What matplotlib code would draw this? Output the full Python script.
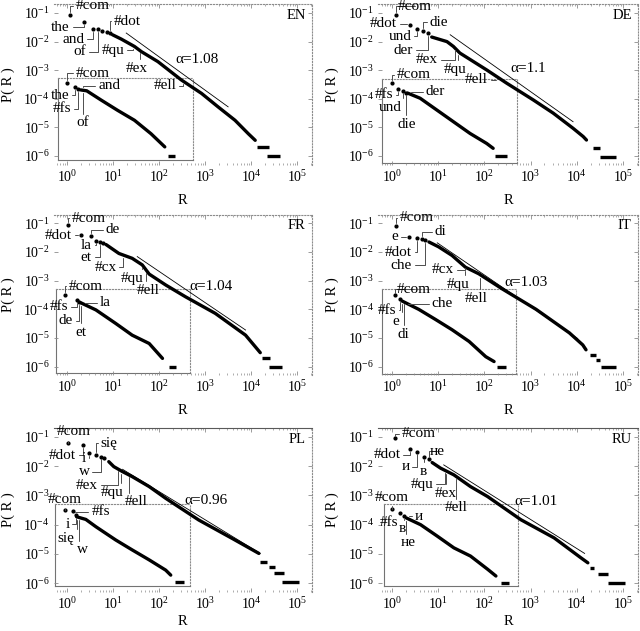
import numpy as np
import matplotlib.pyplot as plt

plt.rcParams['font.family'] = ['Liberation Serif', 'DejaVu Serif']
plt.rcParams['mathtext.fontset'] = 'stix'

# all values, stored as log10(R) and log10(P)

# ---- EN ----
en_top_r = [0.06, 0.36, 0.55, 0.66, 0.75, 0.86, 0.93]
en_top_p = [-1.06, -1.33, -1.56, -1.57, -1.62, -1.66, -1.70]
en_body_r = [0.98, 1.17, 1.46, 1.61, 1.97, 2.48, 2.92, 3.28, 3.65, 3.94, 4.09]
en_body_p = [-1.76, -1.91, -2.17, -2.35, -2.70, -3.34, -3.81, -4.28, -4.75, -5.22, -5.45]
en_tail = [(4.12, 4.38, -5.68), (4.34, 4.64, -6.0)]
en_in_top_r = [-0.02, 0.16, 0.23]
en_in_top_p = [-3.44, -3.60, -3.67]
en_in_body_r = [0.29, 0.42, 0.73, 1.09, 1.46, 1.82, 2.12]
en_in_body_p = [-3.69, -3.72, -4.04, -4.40, -4.75, -5.22, -5.68]
en_in_tail = [(2.19, 2.34, -6.0)]
en_fit_r = [1.28, 3.50]
en_fit_p = [-1.70, -4.28]
en_alpha = '1.08'
en_labels = [('#com', 0.55, -0.74, 0.06, -1.06), ('the', -0.15, -1.49, 0.36, -1.33),
             ('and', 0.13, -1.91, 0.55, -1.56), ('of', 0.27, -2.35, 0.66, -1.57),
             ('#dot', 1.30, -1.29, 0.93, -1.70), ('#qu', 0.99, -2.31, 1.42, -2.17),
             ('#ex', 1.50, -2.93, 1.57, -2.29), ('#ell', 2.12, -3.55, 2.52, -3.38),
             ('#com', 0.55, -3.11, -0.02, -3.44), ('the', -0.16, -3.87, 0.16, -3.60),
             ('#fs', -0.12, -4.34, 0.23, -3.67), ('and', 0.91, -3.55, 0.33, -3.70),
             ('of', 0.33, -4.84, 0.33, -3.71)]

# ---- DE ----
de_top_r = [0.09, 0.38, 0.55, 0.68, 0.77]
de_top_p = [-1.06, -1.41, -1.56, -1.62, -1.70]
de_body_r = [0.86, 1.19, 1.33, 1.47, 2.05, 2.48, 3.06, 3.49, 3.92, 4.14, 4.21]
de_body_p = [-1.84, -2.00, -2.17, -2.40, -2.99, -3.45, -4.04, -4.50, -5.03, -5.32, -5.44]
de_tail = [(4.35, 4.50, -5.73), (4.50, 4.86, -6.02)]
de_in_top_r = [0.0, 0.14, 0.24, 0.31]
de_in_top_p = [-3.43, -3.65, -3.71, -3.78]
de_in_body_r = [0.34, 0.61, 0.97, 1.33, 1.69, 2.05, 2.19]
de_in_body_p = [-3.80, -3.98, -4.39, -4.80, -5.21, -5.56, -5.73]
de_in_tail = [(2.23, 2.48, -6.0)]
de_fit_r = [1.26, 3.92]
de_fit_p = [-1.76, -4.80]
de_alpha = '1.1'
de_labels = [('#com', 0.50, -0.77, 0.09, -1.06), ('#dot', -0.18, -1.37, 0.38, -1.41),
             ('und', 0.17, -1.82, 0.55, -1.56), ('die', 1.01, -1.33, 0.68, -1.62),
             ('der', 0.25, -2.31, 0.77, -1.70), ('#ex', 0.76, -2.64, 1.37, -2.20),
             ('#qu', 1.37, -2.96, 1.44, -2.38), ('#ell', 1.83, -3.34, 2.30, -3.30),
             ('#com', 0.47, -3.16, 0.0, -3.43), ('#fs', -0.18, -3.86, 0.14, -3.65),
             ('und', -0.04, -4.29, 0.24, -3.71), ('die', 0.31, -4.88, 0.31, -3.78),
             ('der', 0.94, -3.75, 0.36, -3.78)]

# ---- FR ----
fr_top_r = [0.02, 0.29, 0.51, 0.63, 0.70, 0.77]
fr_top_p = [-1.06, -1.41, -1.44, -1.60, -1.66, -1.70]
fr_body_r = [0.84, 1.12, 1.41, 1.63, 1.78, 2.14, 2.57, 3.22, 3.88, 4.09, 4.20]
fr_body_p = [-1.74, -2.05, -2.22, -2.45, -2.77, -3.15, -3.56, -4.14, -4.90, -5.30, -5.51]
fr_tail = [(4.24, 4.42, -5.71), (4.38, 4.67, -6.02)]
fr_in_top_r = [-0.05, 0.20, 0.25]
fr_in_top_p = [-3.50, -3.67, -3.74]
fr_in_body_r = [0.29, 0.62, 1.05, 1.41, 1.78, 2.07]
fr_in_body_p = [-3.77, -4.02, -4.49, -4.90, -5.19, -5.71]
fr_in_tail = [(2.21, 2.36, -6.0)]
fr_fit_r = [1.52, 3.88]
fr_fit_p = [-2.16, -4.72]
fr_alpha = '1.04'
fr_labels = [('#com', 0.46, -0.83, 0.02, -1.06), ('#dot', -0.20, -1.41, 0.29, -1.41),
             ('de', 0.98, -1.23, 0.51, -1.44), ('la', 0.41, -1.77, 0.63, -1.60),
             ('et', 0.41, -2.19, 0.70, -1.66), ('#cx', 0.83, -2.53, 1.20, -2.10),
             ('#qu', 1.40, -2.92, 1.63, -2.45), ('#ell', 1.75, -3.35, 1.70, -2.65),
             ('#com', 0.40, -3.19, -0.05, -3.50), ('#fs', -0.18, -3.91, 0.20, -3.67),
             ('de', -0.04, -4.40, 0.25, -3.74), ('et', 0.29, -4.81, 0.29, -3.77),
             ('la', 0.83, -3.77, 0.33, -3.80)]

# ---- IT ----
it_top_r = [0.09, 0.36, 0.54, 0.65, 0.72]
it_top_p = [-1.08, -1.47, -1.51, -1.55, -1.59]
it_body_r = [0.80, 1.01, 1.30, 1.59, 1.88, 2.39, 3.12, 3.84, 4.13, 4.20]
it_body_p = [-1.65, -1.82, -2.12, -2.53, -2.76, -3.29, -4.00, -4.82, -5.24, -5.41]
it_tail = [(4.28, 4.42, -5.59), (4.42, 4.50, -5.76), (4.53, 4.86, -6.02)]
it_in_top_r = [0.07, 0.17]
it_in_top_p = [-3.51, -3.65]
it_in_body_r = [0.22, 0.58, 0.94, 1.30, 1.67, 2.03, 2.21]
it_in_body_p = [-3.71, -4.00, -4.35, -4.71, -5.12, -5.65, -5.82]
it_in_tail = [(2.28, 2.46, -6.02)]
it_fit_r = [0.98, 4.02]
it_fit_p = [-1.68, -5.02]
it_alpha = '1.03'
it_labels = [('#com', 0.54, -0.80, 0.09, -1.08), ('e', 0.06, -1.47, 0.36, -1.47),
             ('#dot', 0.14, -2.00, 0.54, -1.51), ('di', 1.05, -1.29, 0.65, -1.55),
             ('che', 0.20, -2.47, 0.72, -1.59), ('#cx', 1.10, -2.62, 1.57, -2.45),
             ('#qu', 1.43, -3.14, 1.59, -2.55), ('#ell', 1.83, -3.61, 1.91, -2.80),
             ('#com', 0.47, -3.29, 0.07, -3.51), ('#fs', -0.11, -4.03, 0.17, -3.65),
             ('e', 0.09, -4.41, 0.22, -3.71), ('di', 0.25, -4.86, 0.25, -3.73),
             ('che', 1.09, -3.80, 0.29, -3.76)]

# ---- PL ----
pl_top_r = [0.02, 0.33, 0.47, 0.63, 0.72, 0.80]
pl_top_p = [-1.20, -1.28, -1.56, -1.63, -1.68, -1.72]
pl_body_r = [0.90, 1.01, 1.20, 1.41, 1.78, 2.14, 2.86, 3.59, 4.17]
pl_body_p = [-1.85, -2.02, -2.19, -2.36, -2.70, -3.10, -3.84, -4.47, -4.98]
pl_tail = [(4.20, 4.35, -5.26), (4.38, 4.53, -5.43), (4.49, 4.71, -5.66), (4.67, 5.04, -5.97)]
pl_in_top_r = [-0.05, 0.11, 0.18]
pl_in_top_p = [-3.50, -3.52, -3.66]
pl_in_body_r = [0.20, 0.40, 0.62, 1.05, 1.41, 1.78, 2.14, 2.25]
pl_in_body_p = [-3.73, -3.82, -4.07, -4.52, -4.86, -5.20, -5.55, -5.72]
pl_in_tail = [(2.34, 2.54, -5.97)]
pl_fit_r = [1.20, 4.20]
pl_fit_p = [-2.11, -4.98]
pl_alpha = '0.96'
pl_labels = [('#com', 0.14, -0.83, 0.02, -1.20), ('#dot', -0.11, -1.63, 0.33, -1.28),
             ('i', 0.36, -1.73, 0.47, -1.56), ('się', 0.91, -1.23, 0.63, -1.63),
             ('w', 0.36, -2.19, 0.72, -1.68), ('#ex', 0.43, -2.65, 1.10, -2.08),
             ('#qu', 0.98, -2.91, 1.17, -2.16), ('#ell', 1.49, -3.22, 1.33, -2.28),
             ('#com', -0.07, -3.14, -0.05, -3.50), ('#fs', 0.72, -3.56, 0.11, -3.52),
             ('i', 0.0, -3.98, 0.18, -3.66), ('się', -0.04, -4.47, 0.20, -3.73),
             ('w', 0.33, -4.86, 0.25, -3.75)]

# ---- RU ----
ru_top_r = [0.07, 0.40, 0.54, 0.69, 0.80]
ru_top_p = [-1.06, -1.43, -1.51, -1.68, -1.77]
ru_body_r = [0.87, 1.05, 1.34, 1.70, 2.07, 2.79, 3.51, 4.09, 4.24]
ru_body_p = [-1.88, -2.07, -2.30, -2.70, -3.04, -3.83, -4.45, -5.13, -5.30]
ru_tail = [(4.28, 4.38, -5.47), (4.46, 4.67, -5.69), (4.67, 5.04, -6.0)]
ru_in_top_r = [0.0, 0.18, 0.25]
ru_in_top_p = [-3.47, -3.60, -3.70]
ru_in_body_r = [0.31, 0.62, 0.98, 1.34, 1.70, 2.07, 2.25]
ru_in_body_p = [-3.77, -4.00, -4.39, -4.79, -5.07, -5.52, -5.75]
ru_in_tail = [(2.36, 2.54, -6.0)]
ru_fit_r = [1.12, 4.17]
ru_fit_p = [-1.96, -4.98]
ru_alpha = '1.01'
ru_labels = [('#com', 0.58, -0.89, 0.07, -1.06), ('#dot', -0.11, -1.62, 0.40, -1.43),
             ('и', 0.29, -2.02, 0.54, -1.51), ('в', 0.67, -2.19, 0.69, -1.68),
             ('не', 0.98, -1.49, 0.80, -1.77), ('#qu', 0.65, -2.62, 1.14, -2.14),
             ('#ex', 1.16, -2.92, 1.18, -2.16), ('#ell', 1.38, -3.43, 1.38, -2.33),
             ('#com', 0.0, -3.06, 0.0, -3.47), ('#fs', -0.07, -3.92, 0.18, -3.60),
             ('и', 0.58, -3.72, 0.31, -3.77), ('в', 0.22, -4.14, 0.25, -3.70),
             ('не', 0.36, -4.62, 0.31, -3.77)]

panels = [
    ('EN', en_top_r, en_top_p, en_body_r, en_body_p, en_tail, en_in_top_r, en_in_top_p,
     en_in_body_r, en_in_body_p, en_in_tail, en_fit_r, en_fit_p, en_alpha, en_labels),
    ('DE', de_top_r, de_top_p, de_body_r, de_body_p, de_tail, de_in_top_r, de_in_top_p,
     de_in_body_r, de_in_body_p, de_in_tail, de_fit_r, de_fit_p, de_alpha, de_labels),
    ('FR', fr_top_r, fr_top_p, fr_body_r, fr_body_p, fr_tail, fr_in_top_r, fr_in_top_p,
     fr_in_body_r, fr_in_body_p, fr_in_tail, fr_fit_r, fr_fit_p, fr_alpha, fr_labels),
    ('IT', it_top_r, it_top_p, it_body_r, it_body_p, it_tail, it_in_top_r, it_in_top_p,
     it_in_body_r, it_in_body_p, it_in_tail, it_fit_r, it_fit_p, it_alpha, it_labels),
    ('PL', pl_top_r, pl_top_p, pl_body_r, pl_body_p, pl_tail, pl_in_top_r, pl_in_top_p,
     pl_in_body_r, pl_in_body_p, pl_in_tail, pl_fit_r, pl_fit_p, pl_alpha, pl_labels),
    ('RU', ru_top_r, ru_top_p, ru_body_r, ru_body_p, ru_tail, ru_in_top_r, ru_in_top_p,
     ru_in_body_r, ru_in_body_p, ru_in_tail, ru_fit_r, ru_fit_p, ru_alpha, ru_labels),
]

# layout (figure fractions) and per-panel text/inset placement
col_x = [(0.0839, 0.4038), (0.5908, 0.4064)]
row_y = [(0.7391, 0.2539), (0.4052, 0.2545), (0.0616, 0.2602)]
row_labelpad = [7, 6, 2]
alpha_pos = {'EN': (2.83, -2.62), 'DE': (2.95, -2.93), 'FR': (3.12, -3.21),
             'IT': (2.90, -3.06), 'PL': (3.01, -3.16), 'RU': (3.12, -3.21)}
inset_box = {'EN': (-0.20, 2.74, -6.15, -3.28), 'DE': (-0.22, 2.70, -6.26, -3.30),
             'FR': (-0.26, 2.68, -6.21, -3.30), 'IT': (-0.22, 2.68, -6.27, -3.30),
             'PL': (-0.27, 2.68, -6.08, -3.30), 'RU': (-0.18, 2.72, -6.09, -3.30)}

fig = plt.figure(figsize=(6.4, 6.31), dpi=100)

for i, pan in enumerate(panels):
    (name, top_r, top_p, body_r, body_p, tail, in_top_r, in_top_p,
     in_body_r, in_body_p, in_tail, fit_r, fit_p, alpha, labels) = pan
    x0, w = col_x[i % 2]
    y0, h = row_y[i // 2]
    ax = fig.add_axes([x0, y0, w, h])
    ax.set_xscale('log')
    ax.set_yscale('log')
    ax.set_xlim(10 ** -0.3, 10 ** 5.33)
    ax.set_ylim(10 ** -6.3, 10 ** -0.7)

    pw = lambda v: 10 ** np.asarray(v, dtype=float)
    ax.plot(pw(top_r), pw(top_p), 'o', ms=2.0, color='k', zorder=3)
    ax.plot(pw(in_top_r), pw(in_top_p), 'o', ms=2.0, color='k', zorder=3)
    ax.plot(pw(body_r), pw(body_p), '-', lw=2.4, color='k', solid_capstyle='round', zorder=3)
    ax.plot(pw(in_body_r), pw(in_body_p), '-', lw=2.4, color='k', solid_capstyle='round', zorder=3)
    for r0, r1, p in tail + in_tail:
        ax.hlines(10 ** p, 10 ** r0, 10 ** r1, lw=2.4, color='k', zorder=3)
    ax.plot(pw(fit_r), pw(fit_p), '-', lw=0.6, color='k')
    ax.text(10 ** alpha_pos[name][0], 10 ** alpha_pos[name][1], 'α=' + alpha,
            fontsize=11, ha='center', va='center')

    for txt, tx, ty, px, py in labels:
        ax.annotate(txt, xy=(10 ** px, 10 ** py), xytext=(10 ** tx, 10 ** ty),
                    ha='center', va='center', fontsize=11,
                    arrowprops=dict(arrowstyle='-', lw=0.7, color='0.3',
                                    connectionstyle='angle,angleA=0,angleB=90,rad=0',
                                    shrinkA=0, shrinkB=2))

    ax.text(0.975, 0.93, name, transform=ax.transAxes, ha='right', va='center', fontsize=10.5)

    # inset frame
    bx0, bx1, by0, by1 = inset_box[name]
    ins = ax.inset_axes([10 ** bx0, 10 ** by0, 10 ** bx1 - 10 ** bx0, 10 ** by1 - 10 ** by0],
                        transform=ax.transData, zorder=1)
    ins.set_facecolor('none')
    ins.set_xticks([])
    ins.set_yticks([])
    for side in ['left', 'bottom']:
        ins.spines[side].set_color('0.45')
        ins.spines[side].set_linewidth(0.8)
    for side in ['top', 'right']:
        ins.spines[side].set_color('0.55')
        ins.spines[side].set_linestyle(':')
        ins.spines[side].set_linewidth(0.8)

    ax.set_xticks([10 ** k for k in range(0, 6)])
    ax.set_yticks([10 ** -k for k in range(6, 0, -1)])
    ax.tick_params(which='both', direction='in', top=True, right=True, color='0.55',
                   labelsize=10, pad=3)
    ax.tick_params(which='major', length=3, width=0.6)
    ax.tick_params(which='minor', length=1.5, width=0.5)
    for side in ['left', 'bottom']:
        ax.spines[side].set_visible(False)
    for side in ['top', 'right']:
        ax.spines[side].set_color('0.55')
        ax.spines[side].set_linewidth(0.8)
        ax.spines[side].set_linestyle(':')
    if name in ('PL', 'RU'):
        ax.spines['top'].set_linestyle('-')
        ax.spines['top'].set_color('0.35')
    ax.set_xlabel('R', fontsize=10.5, labelpad=row_labelpad[i // 2])
    ax.set_ylabel('P( R )', fontsize=10.5, labelpad=6)

fig.savefig('out.png', dpi=100)
